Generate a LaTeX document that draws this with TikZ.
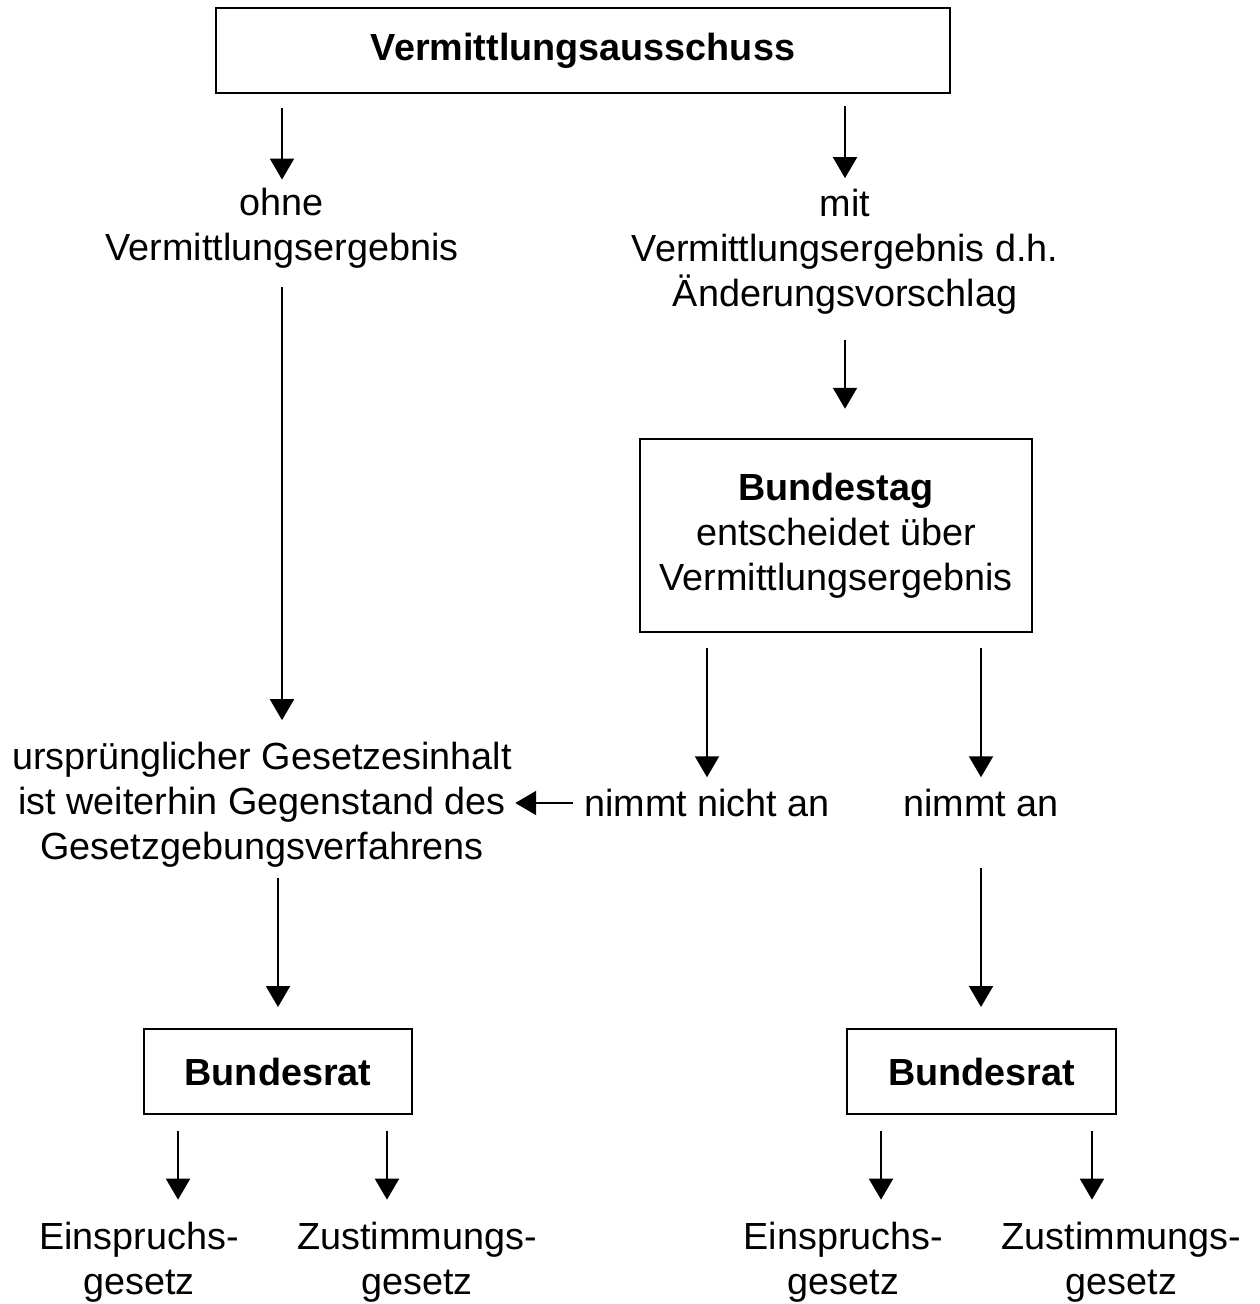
\documentclass[tikz,border=0pt]{standalone}
\usepackage{fontspec}
\setmainfont{Liberation Sans}
\usetikzlibrary{arrows.meta}
\tikzset{
  every node/.style={font=\fontsize{21.5}{25.6}\selectfont, align=center},
  txt/.style={inner sep=0pt},
  kasten/.style={draw, line width=0.04cm, font=\fontsize{21.5}{25.6}\selectfont\bfseries},
  pfeil/.style={-{Triangle[width=0.48cm,length=0.42cm]}, line width=0.04cm}
}
\begin{document}
\begin{tikzpicture}[x=0.02cm, y=-0.02cm]
\useasboundingbox (0,0) rectangle (1260,1304);
\node[kasten, minimum width=14.68cm, minimum height=1.7cm] (va) at (583,50.5) {Vermittlungsausschuss};
\node[txt] (ohne) at (282,228) {ohne\\Vermittlungsergebnis};
\node[txt] (mit) at (845,251.6) {mit\\Vermittlungsergebnis d.h.\\Änderungsvorschlag};
\node[draw, line width=0.05cm, minimum width=7.84cm, minimum height=3.86cm] (bt) at (836,535.5) {\textbf{Bundestag}\\entscheidet über\\Vermittlungsergebnis};
\node[txt] (ursp) at (262,804.6) {ursprünglicher Gesetzesinhalt\\ist weiterhin Gegenstand des\\Gesetzgebungsverfahrens};
\node[txt] (nna) at (707,803) {nimmt nicht an};
\node[txt] (na) at (981,803) {nimmt an};
\node[kasten, minimum width=5.36cm, minimum height=1.7cm] (br1) at (278,1071.5) {Bundesrat};
\node[kasten, minimum width=5.38cm, minimum height=1.7cm] (br2) at (981.5,1071.5) {Bundesrat};
\node[txt] (e1) at (139,1262.6) {Einspruchs-\\gesetz};
\node[txt] (z1) at (417,1262.6) {Zustimmungs-\\gesetz};
\node[txt] (e2) at (843.5,1262.6) {Einspruchs-\\gesetz};
\node[txt] (z2) at (1121.5,1262.6) {Zustimmungs-\\gesetz};
\draw[pfeil, shorten <=0.28cm, shorten >=0.16cm] (va.south -| ohne.north) -- (ohne.north);
\draw[pfeil, shorten <=0.24cm, shorten >=0.21cm] (va.south -| mit.north) -- (mit.north);
\draw[pfeil, shorten <=0.5cm, shorten >=0.58cm] (mit.south) -- (mit.south |- bt.north);
\draw[pfeil, shorten <=0.38cm, shorten >=0.43cm] (ohne.south) -- (ohne.south |- ursp.north);
\draw[pfeil, shorten <=0.3cm, shorten >=0.23cm] (bt.south -| nna.north) -- (nna.north);
\draw[pfeil, shorten <=0.3cm, shorten >=0.23cm] (bt.south -| na.north) -- (na.north);
\draw[pfeil, shorten <=0.22cm, shorten >=0.06cm] (nna.west) -- (ursp.east |- nna.west);
\draw[pfeil, shorten <=0.2cm, shorten >=0.42cm] (ursp.south -| br1.north) -- (br1.north);
\draw[pfeil, shorten <=1.02cm, shorten >=0.42cm] (na.south) -- (na.south |- br2.north);
\draw[pfeil, shorten <=0.32cm, shorten >=0.45cm] ([xshift=-2cm]br1.south) -- ([xshift=-2cm]br1.south |- e1.north);
\draw[pfeil, shorten <=0.32cm, shorten >=0.45cm] ([xshift=2.18cm]br1.south) -- ([xshift=2.18cm]br1.south |- z1.north);
\draw[pfeil, shorten <=0.32cm, shorten >=0.45cm] ([xshift=-2.01cm]br2.south) -- ([xshift=-2.01cm]br2.south |- e2.north);
\draw[pfeil, shorten <=0.32cm, shorten >=0.45cm] ([xshift=2.21cm]br2.south) -- ([xshift=2.21cm]br2.south |- z2.north);
\end{tikzpicture}
\end{document}
